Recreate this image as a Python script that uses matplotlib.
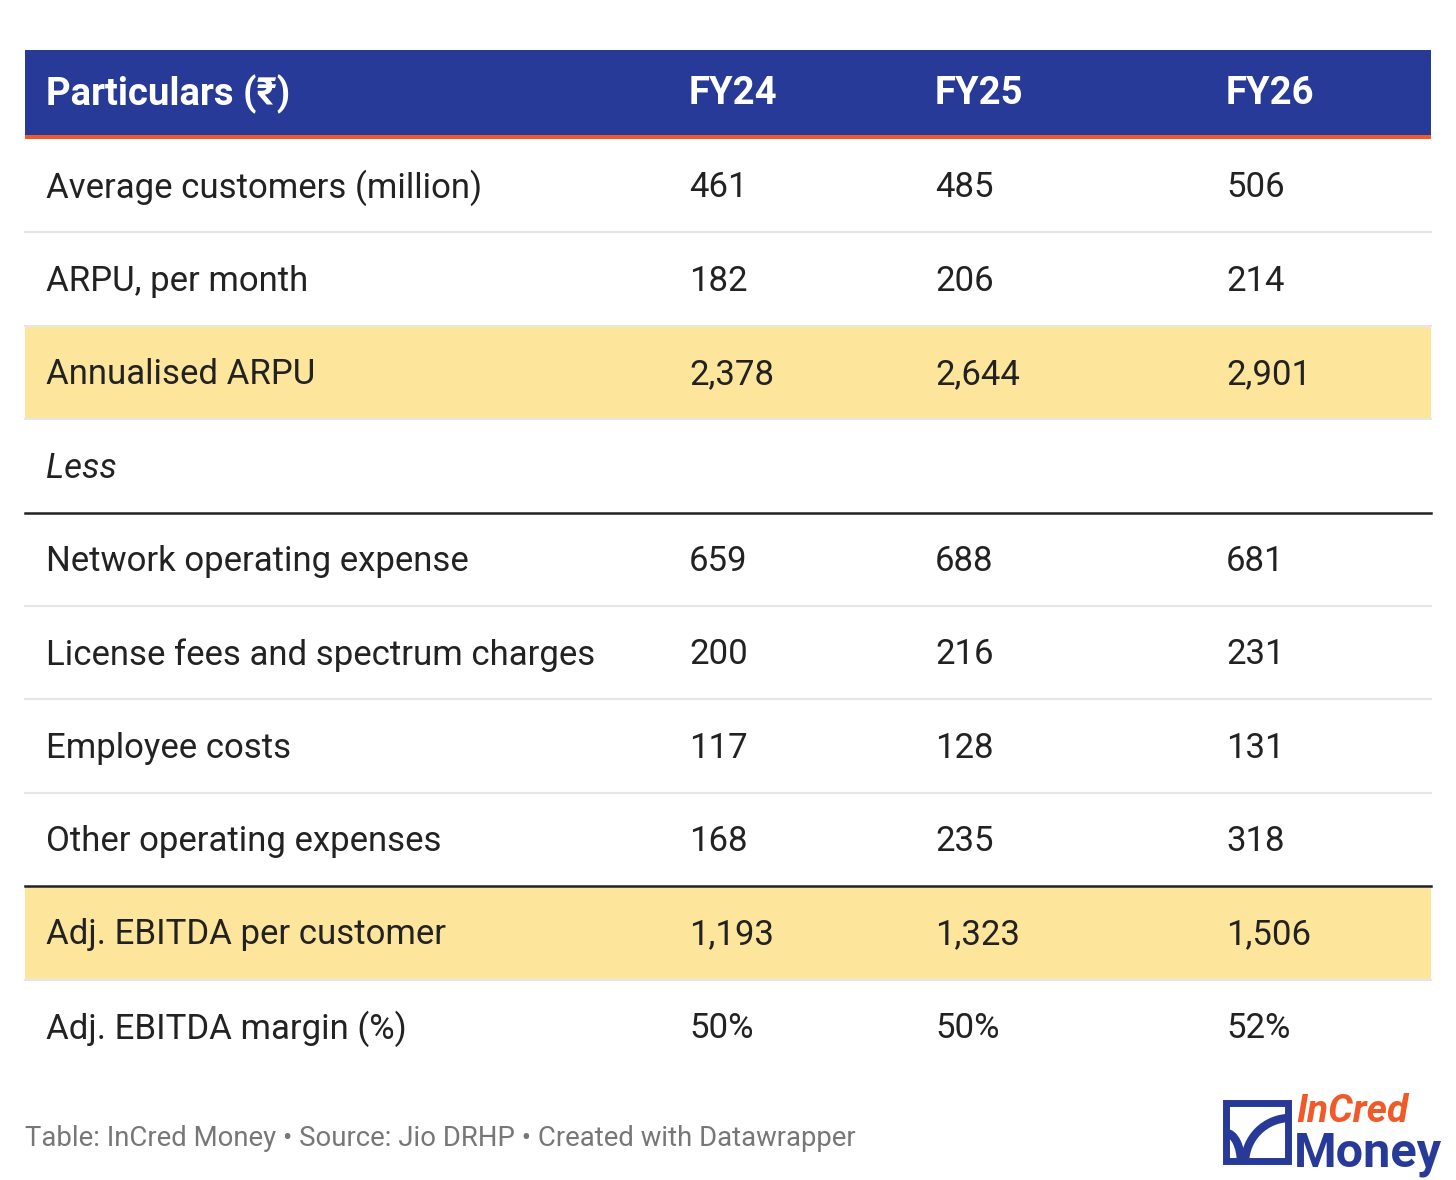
import matplotlib
matplotlib.use("Agg")
import matplotlib.pyplot as plt
from matplotlib.patches import Rectangle, Arc

headers = ["Particulars (₹)", "FY24", "FY25", "FY26"]
labels = ["Average customers (million)", "ARPU, per month", "Annualised ARPU", "Less",
          "Network operating expense", "License fees and spectrum charges", "Employee costs",
          "Other operating expenses", "Adj. EBITDA per customer", "Adj. EBITDA margin (%)"]
fy24 = ["461", "182", "2,378", "", "659", "200", "117", "168", "1,193", "50%"]
fy25 = ["485", "206", "2,644", "", "688", "216", "128", "235", "1,323", "50%"]
fy26 = ["506", "214", "2,901", "", "681", "231", "131", "318", "1,506", "52%"]
highlight = [2, 8]

W, H = 1456, 1180
fig = plt.figure(figsize=(W/100, H/100), dpi=100)
ax = fig.add_axes([0, 0, 1, 1])
ax.set_xlim(0, W); ax.set_ylim(H, 0); ax.axis("off")
plt.rcParams['font.family'] = ['Roboto', 'DejaVu Sans']

blue = "#283a97"; orange = "#f05a28"; yellow = "#fde59c"
x0, x1 = 25, 1431
colx = [46, 689, 935, 1226]
ax.add_patch(Rectangle((x0, 50), x1-x0, 86, color=blue, lw=0))
ax.add_patch(Rectangle((x0, 135), x1-x0, 4, color=orange, lw=0))
for x, h in zip(colx, headers):
    ax.text(x, 94, h, color="white", fontsize=27.5, fontweight="bold", va="center",
            family=['Roboto', 'DejaVu Sans'])

top = 139; rh = 93.4
for i, lab in enumerate(labels):
    y = top + i*rh
    if i in highlight:
        ax.add_patch(Rectangle((x0, y), x1-x0, rh, color=yellow, lw=0))
    yc = y + rh/2 + 2
    ax.text(colx[0], yc, lab, fontsize=25, va="center", color="#222222",
            style="italic" if lab == "Less" else "normal")
    for x, v in zip(colx[1:], (fy24[i], fy25[i], fy26[i])):
        ax.text(x, yc, v, fontsize=25, va="center", color="#222222")
    if i < len(labels)-1:
        yb = y + rh
        if i in (3, 7):
            ax.plot([x0, x1], [yb, yb], color="#222222", lw=1.8)
        else:
            ax.plot([x0, x1], [yb, yb], color="#e6e6e6", lw=1.5)

ax.text(25, 1139, "Table: InCred Money • Source: Jio DRHP • Created with Datawrapper",
        fontsize=19.8, color="#777777", va="center")

# logo
ax.add_patch(Rectangle((1226, 1103), 62, 58, fill=False, ec=blue, lw=5))
ax.add_patch(Arc((1290, 1163), 90, 90, theta1=180, theta2=270, color=blue, lw=6))
ax.add_patch(Arc((1226, 1163), 30, 60, theta1=270, theta2=360, color=blue, lw=6))
ax.text(1296, 1111, "InCred", fontsize=28, color=orange, fontweight="bold", style="italic", va="center")
ax.text(1294, 1154, "Money", fontsize=35, color=blue, fontweight="bold", va="center")

fig.savefig("out.png", dpi=100, facecolor="white")
